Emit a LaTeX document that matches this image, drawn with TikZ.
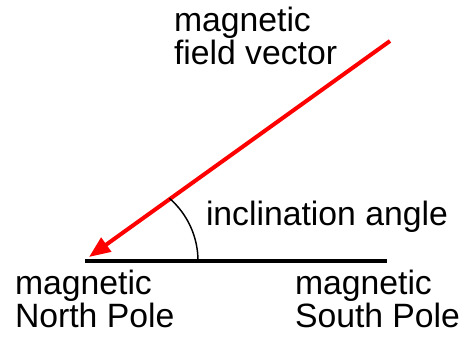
\documentclass[tikz,border=0pt]{standalone}
\usepackage{fontspec}
\setmainfont{Liberation Sans}
\usetikzlibrary{arrows.meta}
\begin{document}
\begin{tikzpicture}[x=0.75pt,y=-0.75pt,
  lbl/.style={inner sep=0pt,outer sep=0pt,anchor=base west,align=left,
    font=\fontsize{25.3}{24.75}\selectfont},
  base/.style={line width=3pt,black},
  vec/.style={line width=3pt,red,-{Triangle[length=16pt,width=12.5pt]}},
  ang/.style={line width=1.1pt,black}]
\useasboundingbox (0,0) rectangle (464,338);
\coordinate (L) at (85,261);
\coordinate (R) at (387,261);
\coordinate (VS) at (390,41);
\coordinate (VT) at (89,257);
\coordinate (AS) at (198,261);
\draw[base] (L) -- (R);
\draw[vec] (VS) -- (VT);
\draw[ang] (AS) arc[start angle=0,end angle=-49,radius=83];
\node[lbl] (fv) at (174,65) {magnetic\\field vector};
\node[lbl] (ia) at (206,226) {inclination angle};
\node[lbl] (np) at (15,328) {magnetic\\North Pole};
\node[lbl] (sp) at (295,328) {magnetic\\South Pole};
\end{tikzpicture}
\end{document}
